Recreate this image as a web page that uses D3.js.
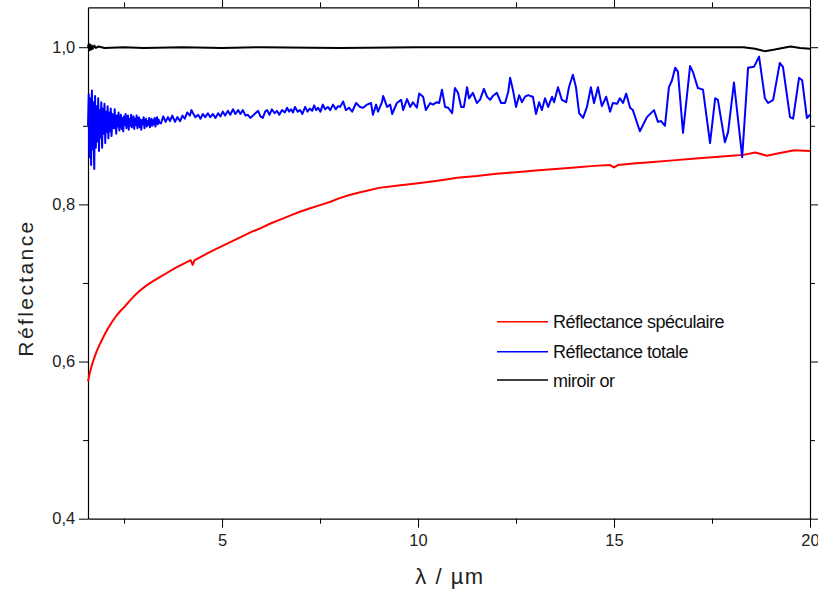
<!DOCTYPE html>
<html><head><meta charset="utf-8">
<script src="https://cdn.jsdelivr.net/npm/d3@7"></script>
<style>
html,body{margin:0;padding:0;background:#fff;}
svg{display:block;font-family:"Liberation Sans",Arial,sans-serif;}
</style></head>
<body>
<svg id="chart" width="818" height="590"></svg>
<script>
// ---- data ----
const xMajorTicks = [5, 10, 15, 20];
const xMinorTicks = [2.5, 7.5, 12.5, 17.5];
const yMajorTicks = [0.4, 0.6, 0.8, 1.0];
const yMinorTicks = [0.5, 0.7, 0.9];
const seriesNames = ["Réflectance spéculaire", "Réflectance totale", "miroir or"];
const seriesColors = ["#ff0000", "#0000ff", "#000000"];

// specular reflectance [wavelength µm, reflectance]
const specular = [
 [1.58,0.575],[1.62,0.584],[1.66,0.592],[1.70,0.599],[1.75,0.606],[1.80,0.613],[1.90,0.624],
 [2.00,0.634],[2.10,0.643],[2.20,0.651],[2.30,0.658],[2.40,0.664],[2.50,0.669],[2.62,0.676],
 [2.75,0.683],[2.90,0.690],[3.05,0.696],[3.20,0.701],[3.40,0.707],[3.60,0.713],[3.80,0.719],
 [4.00,0.724],[4.20,0.729],[4.25,0.723],[4.30,0.729],[4.45,0.733],[4.60,0.737],[4.80,0.742],
 [5.00,0.747],[5.25,0.753],[5.50,0.759],[5.75,0.765],[6.00,0.770],[6.25,0.776],[6.50,0.781],
 [6.75,0.786],[7.00,0.791],[7.25,0.795],[7.50,0.799],[7.75,0.803],[8.00,0.808],[8.25,0.812],
 [8.50,0.815],[8.75,0.818],[9.00,0.821],[9.50,0.824],[10.0,0.827],[10.5,0.830],[11.0,0.834],
 [11.5,0.836],[12.0,0.839],[12.5,0.841],[13.0,0.843],[13.5,0.845],[14.0,0.847],[14.5,0.849],
 [14.9,0.850],[15.0,0.847],[15.1,0.850],[15.5,0.852],[16.0,0.854],[16.5,0.856],[17.0,0.858],
 [17.5,0.860],[18.0,0.862],[18.3,0.863],[18.6,0.866],[18.9,0.862],[19.2,0.865],[19.6,0.869],
 [20.0,0.868]
];

// total reflectance [wavelength µm, reflectance]
const total = [
 [1.58,0.900],[1.60,0.940],[1.61,0.875],[1.62,0.860],[1.63,0.925],[1.64,0.935],[1.65,0.880],[1.66,0.850],
 [1.67,0.912],[1.68,0.945],[1.69,0.900],[1.70,0.870],[1.71,0.920],[1.72,0.930],[1.73,0.866],
 [1.74,0.845],[1.75,0.905],[1.76,0.938],[1.77,0.895],[1.78,0.872],[1.79,0.905],[1.80,0.925],
 [1.81,0.912],[1.82,0.880],[1.83,0.890],[1.84,0.935],[1.85,0.910],[1.86,0.868],[1.87,0.900],
 [1.88,0.920],[1.89,0.898],[1.90,0.885],[1.91,0.915],[1.92,0.930],[1.93,0.895],[1.94,0.872],
 [1.95,0.905],[1.96,0.922],[1.97,0.915],[1.98,0.890],[1.99,0.900],[2.00,0.928],[2.01,0.910],
 [2.02,0.878],[2.03,0.895],[2.04,0.918],[2.05,0.912],[2.06,0.892],[2.07,0.900],[2.08,0.925],
 [2.09,0.908],[2.10,0.884],[2.11,0.897],[2.12,0.917],[2.13,0.910],[2.14,0.893],[2.15,0.903],
 [2.16,0.922],[2.17,0.912],[2.18,0.887],[2.19,0.897],[2.20,0.915],[2.21,0.904],[2.22,0.908],
 [2.24,0.897],[2.26,0.921],[2.28,0.904],[2.30,0.890],[2.32,0.913],[2.34,0.899],[2.36,0.917],
 [2.38,0.894],[2.40,0.906],[2.42,0.914],[2.44,0.896],[2.46,0.910],[2.48,0.893],[2.50,0.912],
 [2.52,0.901],[2.54,0.915],[2.56,0.897],[2.58,0.908],[2.60,0.913],[2.62,0.895],[2.64,0.909],
 [2.66,0.900],[2.68,0.914],[2.70,0.898],[2.72,0.907],[2.74,0.912],[2.76,0.896],[2.78,0.909],
 [2.80,0.901],[2.82,0.913],[2.84,0.897],[2.86,0.906],[2.88,0.911],[2.90,0.898],[2.92,0.908],
 [2.94,0.895],[2.96,0.907],[2.98,0.902],[3.00,0.911],[3.02,0.897],[3.04,0.905],[3.06,0.909],
 [3.08,0.899],[3.10,0.906],[3.12,0.901],[3.14,0.910],[3.16,0.898],[3.18,0.905],[3.20,0.909],
 [3.22,0.900],[3.24,0.907],[3.26,0.902],[3.28,0.910],[3.30,0.899],[3.32,0.906],[3.34,0.911],
 [3.36,0.902],[3.38,0.908],[3.40,0.904],[3.44,0.903],
 [3.50,0.912],[3.56,0.905],[3.62,0.911],[3.67,0.906],[3.73,0.913],[3.80,0.905],[3.86,0.911],
 [3.93,0.906],[3.99,0.913],[4.05,0.909],[4.11,0.917],[4.18,0.913],[4.22,0.920],[4.26,0.916],
 [4.32,0.911],[4.39,0.914],[4.45,0.909],[4.51,0.915],[4.57,0.911],[4.64,0.916],[4.70,0.911],
 [4.77,0.915],[4.83,0.910],[4.90,0.916],[4.96,0.912],[5.02,0.918],[5.08,0.913],[5.15,0.919],
 [5.21,0.914],[5.28,0.921],[5.34,0.915],[5.41,0.920],[5.47,0.915],[5.53,0.920],[5.60,0.913],
 [5.66,0.914],[5.72,0.910],[5.79,0.913],[5.85,0.916],[5.92,0.919],[5.98,0.912],[6.04,0.910],
 [6.10,0.918],[6.15,0.920],[6.21,0.914],[6.27,0.921],[6.34,0.916],[6.40,0.919],[6.46,0.914],
 [6.53,0.920],[6.60,0.917],[6.66,0.923],[6.71,0.918],[6.76,0.921],[6.81,0.917],[6.86,0.924],
 [6.93,0.918],[6.99,0.920],[7.05,0.915],[7.12,0.924],[7.18,0.918],[7.24,0.922],[7.30,0.919],
 [7.35,0.926],[7.40,0.920],[7.45,0.923],[7.51,0.918],[7.57,0.927],[7.63,0.921],[7.70,0.924],
 [7.76,0.920],[7.83,0.927],[7.90,0.921],[7.96,0.925],[8.01,0.924],[8.09,0.931],[8.16,0.920],
 [8.24,0.923],[8.32,0.918],[8.42,0.929],[8.52,0.924],[8.60,0.923],[8.70,0.927],[8.80,0.929],
 [8.85,0.914],[8.93,0.927],[8.98,0.918],[9.08,0.930],[9.11,0.938],[9.21,0.924],[9.29,0.927],
 [9.34,0.915],[9.46,0.929],[9.57,0.933],[9.62,0.920],[9.72,0.934],[9.80,0.924],[9.87,0.930],
 [9.97,0.923],[10.03,0.941],[10.13,0.937],[10.20,0.920],[10.31,0.929],[10.38,0.927],[10.48,0.930],
 [10.54,0.929],[10.61,0.946],[10.69,0.924],[10.77,0.923],[10.87,0.916],[10.94,0.948],[11.02,0.942],
 [11.10,0.924],[11.17,0.924],[11.25,0.949],[11.30,0.935],[11.40,0.942],[11.50,0.929],[11.58,0.933],
 [11.68,0.947],[11.76,0.937],[11.84,0.933],[11.91,0.938],[12.01,0.942],[12.12,0.929],[12.22,0.929],
 [12.30,0.943],[12.35,0.961],[12.42,0.946],[12.50,0.924],[12.58,0.939],[12.65,0.930],[12.73,0.937],
 [12.81,0.939],[12.86,0.938],[12.93,0.937],[13.01,0.915],[13.09,0.930],[13.16,0.920],[13.24,0.935],
 [13.32,0.924],[13.42,0.937],[13.47,0.930],[13.57,0.949],[13.67,0.933],[13.78,0.930],[13.85,0.949],
 [13.95,0.965],[14.03,0.949],[14.11,0.916],[14.21,0.910],[14.31,0.924],[14.41,0.949],[14.49,0.929],
 [14.59,0.949],[14.69,0.925],[14.80,0.937],[14.90,0.918],[14.97,0.929],[15.08,0.928],[15.15,0.935],
 [15.23,0.929],[15.31,0.941],[15.41,0.923],[15.48,0.920],[15.66,0.893],[15.84,0.911],[16.02,0.920],
 [16.12,0.905],[16.20,0.906],[16.30,0.900],[16.40,0.949],[16.48,0.958],[16.56,0.974],[16.63,0.969],
 [16.76,0.891],[16.94,0.976],[17.01,0.969],[17.14,0.948],[17.27,0.946],[17.45,0.878],[17.58,0.935],
 [17.65,0.933],[17.83,0.879],[17.91,0.892],[18.06,0.955],[18.27,0.860],[18.42,0.974],[18.57,0.975],
 [18.70,0.988],[18.85,0.935],[18.93,0.929],[19.06,0.933],[19.23,0.980],[19.31,0.975],[19.49,0.911],
 [19.57,0.909],[19.72,0.961],[19.80,0.958],[19.92,0.910],[20.00,0.914]
];

// gold mirror [wavelength µm, reflectance]
const goldMirror = [
 [1.58,1.000],[1.60,1.004],[1.62,0.996],[1.64,1.003],[1.66,0.997],[1.68,1.002],[1.70,0.998],
 [1.74,1.002],[1.78,0.999],[1.85,1.001],[2.0,0.999],[2.5,1.000],[3.0,0.999],[4.0,1.000],
 [5.0,0.999],[6.0,1.000],[8.0,0.999],[10.0,1.000],[12.0,1.000],[14.0,1.000],[16.0,1.000],
 [17.0,1.000],[18.3,1.000],[18.6,0.998],[18.85,0.995],[19.1,0.997],[19.5,1.001],[19.75,0.999],
 [20.0,0.998]
];

// ---- layout ----
const L = 88, R = 810, T = 7.3, B = 518.7;
const svg = d3.select("#chart");
const x = d3.scaleLinear().domain([1.58, 20]).range([L, R]);
const y = d3.scaleLinear().domain([0.4, 1.0508]).range([B, T]);
const fmt = d => d3.format(".1f")(d).replace(".", ",");

function axisGroup(axisFn, scale, vals, size, labels, tr) {
  const g = svg.append("g").attr("transform", tr)
    .call(axisFn(scale).tickValues(vals).tickSize(size).tickSizeOuter(0)
      .tickFormat(labels ? labels : () => ""));
  g.selectAll("path,line").attr("stroke", "#000").attr("stroke-width", 1);
  return g;
}
// bottom
const gb = axisGroup(d3.axisBottom, x, xMajorTicks, 9, d => d, `translate(0,${B})`);
axisGroup(d3.axisBottom, x, xMinorTicks, 5, null, `translate(0,${B})`).select(".domain").remove();
gb.selectAll("text").attr("font-size", 16.5).attr("fill", "#222").attr("dy", "0.9em");
// top
axisGroup(d3.axisTop, x, xMajorTicks, 9, null, `translate(0,${T})`);
axisGroup(d3.axisTop, x, xMinorTicks, 5, null, `translate(0,${T})`).select(".domain").remove();
// left
const gl = axisGroup(d3.axisLeft, y, yMajorTicks, 9, fmt, `translate(${L},0)`);
axisGroup(d3.axisLeft, y, yMinorTicks, 5, null, `translate(${L},0)`).select(".domain").remove();
gl.selectAll("text").attr("font-size", 16.5).attr("fill", "#222").attr("dx", "-0.05em");
// right
axisGroup(d3.axisRight, y, yMajorTicks, 9, null, `translate(${R},0)`);
axisGroup(d3.axisRight, y, yMinorTicks, 5, null, `translate(${R},0)`).select(".domain").remove();
svg.selectAll(".domain").attr("stroke-width", 1.2);

// lines
const line = d3.line().x(d => x(d[0])).y(d => y(d[1]));
const datasets = [specular, total, goldMirror];
const plot = svg.append("g");
[2, 0, 1].forEach(i => {
  plot.append("path").datum(datasets[i])
    .attr("fill", "none").attr("stroke", seriesColors[i])
    .attr("stroke-width", 2).attr("stroke-linejoin", "round")
    .attr("d", line);
});

// axis titles
svg.append("text").attr("x", 450).attr("y", 584)
  .attr("text-anchor", "middle").attr("font-size", 22).attr("letter-spacing", 1.5).attr("fill", "#222")
  .text("λ / µm");
svg.append("text").attr("transform", "translate(33,288) rotate(-90)")
  .attr("text-anchor", "middle").attr("font-size", 21).attr("letter-spacing", 2.4)
  .attr("fill", "#222").text("Réflectance");

// legend
const legY = [321.7, 351.7, 380];
const leg = svg.append("g");
seriesNames.forEach((n, i) => {
  leg.append("line").attr("x1", 497).attr("x2", 548).attr("y1", legY[i]).attr("y2", legY[i])
    .attr("stroke", seriesColors[i]).attr("stroke-width", 1.5);
  leg.append("text").attr("x", 553).attr("y", legY[i] + 6.5)
    .attr("font-size", 18).attr("letter-spacing", -0.5).attr("fill", "#111").text(n);
});
</script>
</body></html>
